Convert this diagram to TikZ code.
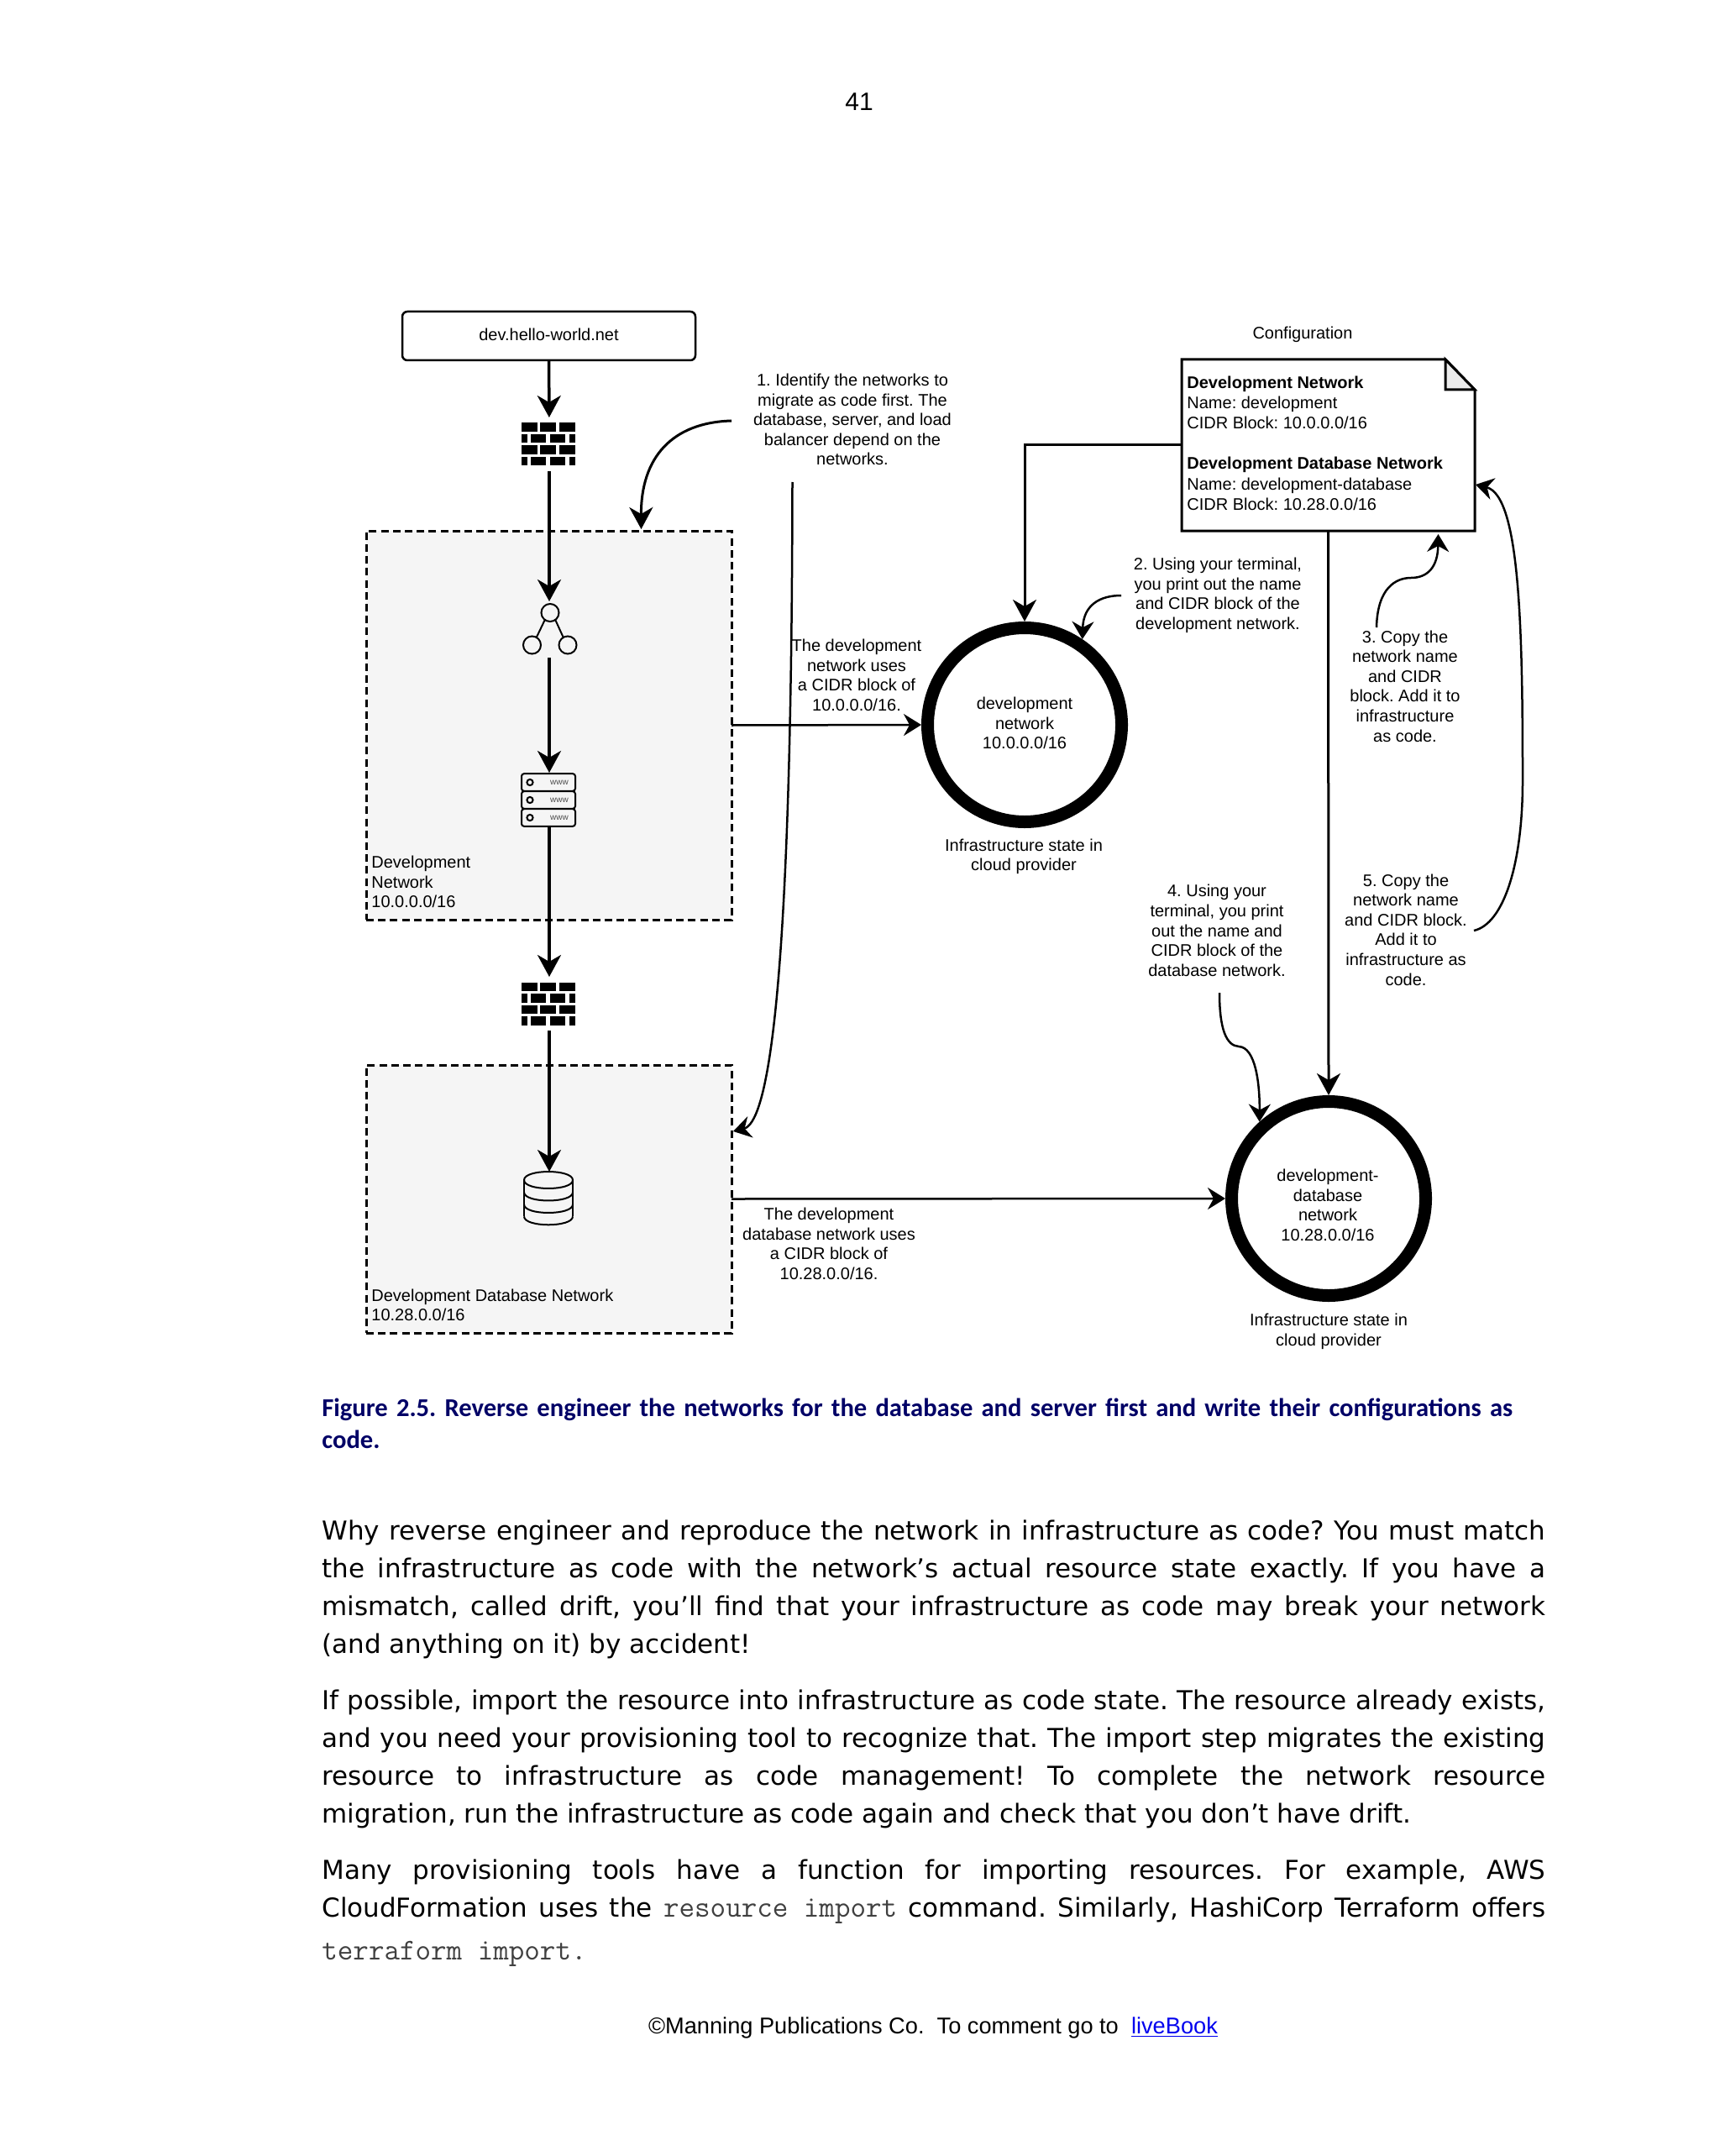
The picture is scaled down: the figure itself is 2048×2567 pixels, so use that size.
\documentclass[tikz,border=0pt]{standalone}
\usepackage{fontspec}
\setmainfont{Liberation Sans}
\newfontfamily\bodyfont{DejaVu Sans}
\newfontfamily\capfont{Carlito}
\usepackage{xcolor}
\usetikzlibrary{arrows.meta}
\definecolor{netfill}{HTML}{F5F5F5}
\definecolor{capblue}{HTML}{000066}
\definecolor{linkblue}{HTML}{0000EE}
\frenchspacing
\tikzset{
  lbl/.style={inner sep=0pt,align=center,font=\fontsize{10}{11.8}\selectfont},
  lblleft/.style={lbl,align=left,anchor=west},
  iconbox/.style={inner sep=0pt,outer sep=0pt,minimum width=33pt},
  netbox/.style={draw,fill=netfill,line width=1.5pt,dash pattern=on 4.5pt off 2.6pt,inner sep=0pt,outer sep=0pt},
  statecircle/.style={draw,circle,line width=7.5pt,minimum size=115.5pt,inner sep=0pt},
  flow/.style={line width=1.75pt,-{Stealth[length=13pt,width=14pt,inset=4pt]}},
  cfgflow/.style={flow,line width=1.5pt},
  thinflow/.style={line width=1.25pt,-{Stealth[length=10.5pt,width=13pt,inset=3.5pt]}},
  body/.style={inner sep=0pt,anchor=west,text width=728.5pt,align=justify,font=\bodyfont\fontsize{15.5}{22.6}\selectfont},
  firewall/.pic={
    \foreach \r in {-25.5,1.5} {
      \fill (-33.5,\r) rectangle (-14.5,\r+10.5);
      \fill (-11,\r) rectangle (8,\r+10.5);
      \fill (11.5,\r) rectangle (30.5,\r+10.5);
    }
    \foreach \r in {-12,15} {
      \fill (-33.5,\r) rectangle (-26.5,\r+10.5);
      \fill (-22.5,\r) rectangle (-4.5,\r+10.5);
      \fill (0.5,\r) rectangle (18.5,\r+10.5);
      \fill (23.5,\r) rectangle (30.5,\r+10.5);
    }
  },
  balancer/.pic={
    \draw[line width=1pt] (1,-20) circle (5.25pt);
    \draw[line width=1pt] (-20.5,18.5) circle (5.25pt);
    \draw[line width=1pt] (22,18.5) circle (5.25pt);
    \draw[line width=1pt] (-5,-12) -- (-15.5,10);
    \draw[line width=1pt] (7,-12) -- (17,10);
  },
  serverstack/.pic={
    \foreach \r in {-21,0,21} {
      \draw[line width=1pt,rounded corners=1.5pt] (-33,\r-10.3) rectangle (31,\r+10.3);
      \draw[line width=1pt] (-23,\r) circle (1.8pt);
      \node[font=\fontsize{5}{6}\selectfont,text=black!70,inner sep=0pt] (www\r) at (12,\r) {www};
    }
  },
  dbstack/.pic={
    \draw[line width=1pt] (-30,-21.5) .. controls (-30,-34.8) and (28,-34.8) .. (28,-21.5);
    \draw[line width=1pt] (-30,21.5) -- (-30,-21.5);
    \draw[line width=1pt] (28,21.5) -- (28,-21.5);
    \foreach \r in {-21.5,-7,7.5,21.8} {
      \draw[line width=1pt] (-30,\r) .. controls (-30,\r+13.3) and (28,\r+13.3) .. (28,\r);
    }
  }
}
\begin{document}
\begin{tikzpicture}[x=0.5pt,y=-0.5pt]
\useasboundingbox (0,0) rectangle (2048,2567);

\node[lbl,font=\fontsize{15}{18}\selectfont] (pagenum) at (1023,121) {41};

% network boxes go first, the arrows run over them
\node[netbox,minimum width=217.5pt,minimum height=231.5pt] (devbox) at (653.5,863.5) {};
\node[netbox,minimum width=217.5pt,minimum height=159.5pt] (dbbox) at (653.5,1427.5) {};
\node[lblleft] (devboxlbl) at (442,1050) {Development\\Network\\10.0.0.0/16};
\node[lblleft] (dbboxlbl) at (442,1554) {Development Database Network\\10.28.0.0/16};

% domain name and icons
\node[draw,rounded corners=3pt,line width=1.25pt,minimum width=174.5pt,minimum height=29pt,lbl,outer sep=0pt] (domain) at (653.5,400) {\raisebox{1.5pt}{dev.hello-world.net}};
\node[iconbox,minimum height=32pt] (fwtop) at (654,529) {};
\node[iconbox,minimum height=33.5pt] (lb) at (654,749.5) {};
\node[iconbox,minimum height=32.5pt] (srv) at (654,952.5) {};
\node[iconbox,minimum height=32pt] (fwdb) at (654,1195) {};
\node[iconbox,minimum height=31.5pt] (dbicon) at (654,1426.5) {};
\pic at (fwtop) {firewall};
\pic at (lb) {balancer};
\pic at (srv) {serverstack};
\pic at (fwdb) {firewall};
\pic at (dbicon) {dbstack};

\draw[flow] (domain) -- (fwtop);
\draw[flow] (fwtop) -- (lb);
\draw[flow] (lb) -- (srv);
\draw[flow] (srv) -- (fwdb);
\draw[flow] (fwdb) -- (dbicon);

% state circles
\node[statecircle] (devnet) at (1220,863) {};
\node[statecircle] (dbnet) at (1582,1427) {};
\node[lbl] (devnetlbl) at (1220,861) {development\\network\\10.0.0.0/16};
\node[lbl] (dbnetlbl) at (1581,1435) {development-\\database\\network\\10.28.0.0/16};
\node[lbl] (devstate) at (1219,1020) {Infrastructure state in\\cloud provider};
\node[lbl] (dbstate) at (1582,1585.5) {Infrastructure state in\\cloud provider};

% configuration file
\node[lbl] (cfgtitle) at (1551,398.5) {Configuration};
\coordinate (cfgnw) at (1407,428);
\coordinate (cfgse) at (1756,632);
\node[inner sep=0pt,outer sep=0pt,minimum width=174.5pt,minimum height=102pt] (cfgdoc) at (1581.5,530) {};
\draw[line width=1.5pt,fill=white] (cfgnw) -- (1721,428) -- (1756,464) -- (cfgse) -- (1407,632) -- cycle;
\draw[line width=1.5pt,fill=black!8] (1721,428) -- (1756,464) -- (1721,464) -- cycle;
\node[lblleft,font=\fontsize{10}{12.1}\selectfont] (cfgtext) at (1413,527.5) {\textbf{Development Network}\\Name: development\\CIDR Block: 10.0.0.0/16\\[12.1pt]\textbf{Development Database Network}\\Name: development-database\\CIDR Block: 10.28.0.0/16};

\draw[cfgflow] (cfgdoc.west) -| (devnet.north);
\draw[cfgflow] (cfgdoc.south) -- (dbnet.north);
\draw[thinflow] (devbox.east) -- (devnet.west);
\draw[thinflow] (dbbox.east) -- (dbnet.west);

% numbered steps
\node[lbl] (stepone) at (1015,499.5) {1. Identify the networks to\\migrate as code first. The\\database, server, and load\\balancer depend on the\\networks.};
\node[lbl] (devuses) at (1020,804) {The development\\network uses\\a CIDR block of\\10.0.0.0/16.};
\node[lbl] (dbuses) at (987,1481) {The development\\database network uses\\a CIDR block of\\10.28.0.0/16.};
\node[lbl] (steptwo) at (1450,709) {2. Using your terminal,\\you print out the name\\and CIDR block of the\\development network.};
\node[lbl] (stepthree) at (1673,817) {3. Copy the\\network name\\and CIDR\\block. Add it to\\infrastructure\\as code.};
\node[lbl] (stepfour) at (1449,1108) {4. Using your\\terminal, you print\\out the name and\\CIDR block of the\\database network.};
\node[lbl] (stepfive) at (1674,1107) {5. Copy the\\network name\\and CIDR block.\\Add it to\\infrastructure as\\code.};

% curved notes
\coordinate (onefrom) at (871,501);
\coordinate (oneto) at (763.5,630);
\coordinate (onedown) at (943.5,574);
\coordinate (oneside) at (873,1347);
\coordinate (twofrom) at (1335,709);
\coordinate (threefrom) at (1639,747);
\coordinate (threeto) at (1712.5,636);
\coordinate (fourfrom) at (1452,1182);
\coordinate (fivefrom) at (1755,1108);
\coordinate (fiveto) at (1757,577);
\draw[cfgflow] (onefrom) .. controls (800,503) and (763,545) .. (oneto);
\draw[thinflow] (onedown) .. controls (943,800) and (940,1330) .. (oneside);
\draw[thinflow] (twofrom) .. controls (1310,709) and (1290,720) .. (devnet.56);
\draw[thinflow] (threefrom) .. controls (1640,700) and (1662,688) .. (1680,688) .. controls (1700,688) and (1712,675) .. (threeto);
\draw[thinflow] (fourfrom) .. controls (1452,1225) and (1460,1245) .. (1475,1246) .. controls (1495,1247) and (1500,1290) .. (dbnet.132);
\draw[thinflow] (fivefrom) .. controls (1790,1100) and (1813,1030) .. (1813,930) .. controls (1813,750) and (1810,590) .. (fiveto);

% page text
\node[inner sep=0pt,anchor=west,text width=728.5pt,align=left,text=capblue,font=\capfont\fontsize{15.3}{19}\bfseries\selectfont] (caption) at (383,1695) {Figure 2.5. Reverse engineer the networks for the database and server first and write their configurations as\\code.};
\node[body] (paraone) at (383,1892.5) {Why reverse engineer and reproduce the network in infrastructure as code? You must match\linebreak the infrastructure as code with the network’s actual resource state exactly. If you have a\linebreak mismatch, called drift, you’ll find that your infrastructure as code may break your network\linebreak (and anything on it) by accident!};
\node[body] (paratwo) at (383,2094.5) {If possible, import the resource into infrastructure as code state. The resource already exists,\linebreak and you need your provisioning tool to recognize that. The import step migrates the existing\linebreak resource to infrastructure as code management! To complete the network resource\linebreak migration, run the infrastructure as code again and check that you don’t have drift.};
\node[body] (parathree) at (383,2277.5) {Many provisioning tools have a function for importing resources. For example, AWS\linebreak CloudFormation uses the \textcolor{black!75}{\ttfamily\fontsize{18}{22}\selectfont resource import} command. Similarly, HashiCorp Terraform offers\linebreak \rule{0pt}{20.5pt}\textcolor{black!75}{\ttfamily\fontsize{18}{22}\selectfont terraform import.}};
\node[lbl,font=\fontsize{13.6}{16}\selectfont] (footer) at (1111,2414.5) {©Manning Publications Co.\ \ To comment go to\ \ \textcolor{linkblue}{\underline{liveBook}}};
\end{tikzpicture}
\end{document}
